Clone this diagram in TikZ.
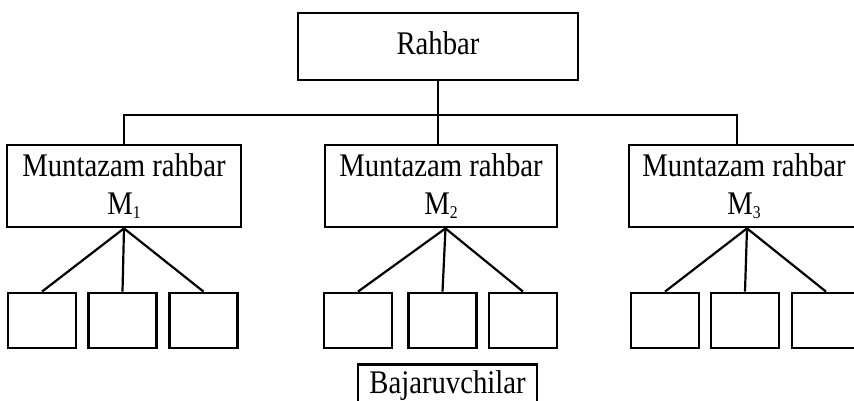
\documentclass[tikz,border=0pt]{standalone}
\usepackage{fontspec}
\setmainfont[FakeStretch=0.87]{Liberation Serif}
\usetikzlibrary{calc}
\newcommand\subidx[1]{\raisebox{-3.5pt}{\fontsize{18}{18}\selectfont #1}}
\begin{document}
\begin{tikzpicture}[x=1pt,y=-1pt,
  box/.style={draw, line width=2.8pt, inner sep=0pt, align=center,
    font=\fontsize{33}{38}\selectfont},
  leaf/.style={draw, line width=2.8pt, minimum width=68pt, minimum height=55pt, inner sep=0pt},
  link/.style={line width=2.2pt}]
\useasboundingbox (0,0) rectangle (854,401);
\clip (0,0) rectangle (854,401);

\node[box, minimum width=280pt, minimum height=67pt, text height=22.5pt, text depth=7pt] (boss) at (438,46.5) {Rahbar};

\node[box, minimum width=234pt, minimum height=82pt] (m1) at (124,186) {Muntazam rahbar\\M\subidx{1}};
\node[box, minimum width=232pt, minimum height=82pt] (m2) at (441,186) {Muntazam rahbar\\M\subidx{2}};
\node[box, minimum width=230pt, minimum height=82pt] (m3) at (744,186) {Muntazam rahbar\\M\subidx{3}};

\node[leaf] (a1) at (42,320.5) {};
\node[leaf] (a2) at (122.5,320.5) {};
\node[leaf] (a3) at (203.5,320.5) {};
\node[leaf] (b1) at (358,320.5) {};
\node[leaf] (b2) at (442.5,320.5) {};
\node[leaf] (b3) at (523,320.5) {};
\node[leaf] (c1) at (665,320.5) {};
\node[leaf] (c2) at (745,320.5) {};
\node[leaf] (c3) at (826,320.5) {};

\node[box, anchor=north, minimum width=179pt, text height=22.5pt, text depth=30pt, inner ysep=6.5pt] (baj) at (447.5,363) {Bajaruvchilar};

% tree from the leader
\coordinate (bus) at (0,115);
\coordinate (m3in) at ($(m3.north)+(-7,0)$);
\draw[link] (boss.south) -- (boss.south |- m2.north);
\draw[link] (m1.north) -- (m1.north |- bus) -- (m3in |- bus) -- (m3in);

% apexes
\coordinate (p1) at (m1.south);
\coordinate (p2) at ($(m2.south)+(4.5,0)$);
\coordinate (p3) at ($(m3.south)+(3,0)$);
\foreach \l in {a1,a2,a3} \draw[link] (p1) -- (\l.north);
\foreach \l in {b1,b2,b3} \draw[link] (p2) -- (\l.north);
\foreach \l in {c1,c2,c3} \draw[link] (p3) -- (\l.north);
\end{tikzpicture}
\end{document}
